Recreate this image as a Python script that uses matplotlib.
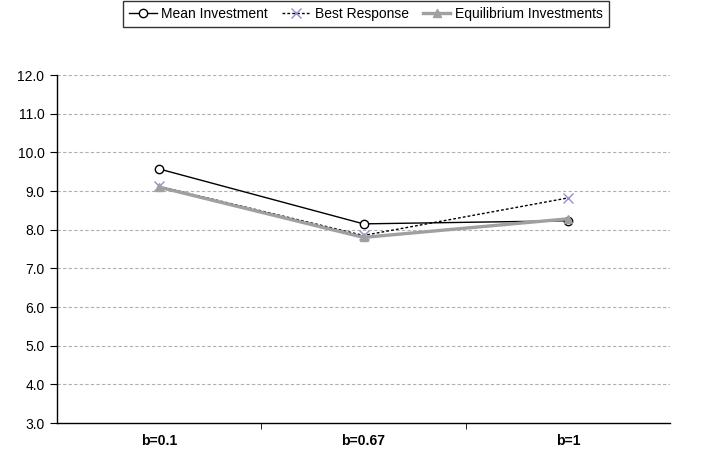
import matplotlib.pyplot as plt
import numpy as np

plt.rcParams['font.family'] = ['Liberation Sans', 'DejaVu Sans']

# dữ liệu
categories = ['b=0.1', 'b=0.67', 'b=1']
mean_investment = [9.57, 8.15, 8.23]
best_response = [9.12, 7.85, 8.82]
equilibrium = [9.10, 7.80, 8.28]
y_ticks = np.arange(3.0, 12.01, 1.0)

fig = plt.figure(figsize=(7.02, 4.61), dpi=100)
ax = fig.add_axes([57 / 702, 1 - 423 / 461, 613 / 702, 348 / 461])

x = np.arange(len(categories))
ax.plot(x, mean_investment, color='black', lw=1.0, marker='o', ms=6,
        mfc='white', mec='black', mew=1.0, label='Mean Investment', zorder=3)
ax.plot(x, best_response, color='black', lw=1.0, ls=(0, (2, 1.5)), marker='x',
        ms=7, mec='#9c8ccc', mew=1.0, label='Best Response', zorder=4)
ax.plot(x, equilibrium, color='#a0a0a0', lw=2.4, marker='^', ms=6,
        mfc='#a0a0a0', mec='#a0a0a0', label='Equilibrium Investments', zorder=5)

ax.set_xlim(-0.5, len(categories) - 0.5)
ax.set_ylim(3.0, 12.0)
ax.set_yticks(y_ticks)
ax.set_yticklabels([f'{v:.1f}' for v in y_ticks], fontsize=10)
ax.set_xticks(x)
ax.set_xticklabels(categories, fontsize=10, fontweight='bold')
ax.tick_params(axis='x', length=0, pad=8)
ax.set_xticks(x[:-1] + 0.5, minor=True)
ax.tick_params(axis='x', which='minor', length=4, direction='out')
ax.tick_params(axis='y', length=5, direction='out', pad=4)

for v in y_ticks[1:]:
    ax.axhline(v, color='#b0b0b0', lw=0.8, ls=(0, (3, 2)), zorder=1)

for s in ['top', 'right']:
    ax.spines[s].set_visible(False)
ax.spines['left'].set_linewidth(1.0)
ax.spines['bottom'].set_linewidth(1.0)

leg = fig.legend(loc='center', bbox_to_anchor=(366 / 702, 1 - 14 / 461), ncol=3,
                 frameon=True, fancybox=False, edgecolor='black', fontsize=10,
                 handlelength=2.0, handletextpad=0.35, columnspacing=1.0,
                 borderpad=0.45)
leg.get_frame().set_linewidth(1.0)

plt.savefig('out.png', dpi=100)
